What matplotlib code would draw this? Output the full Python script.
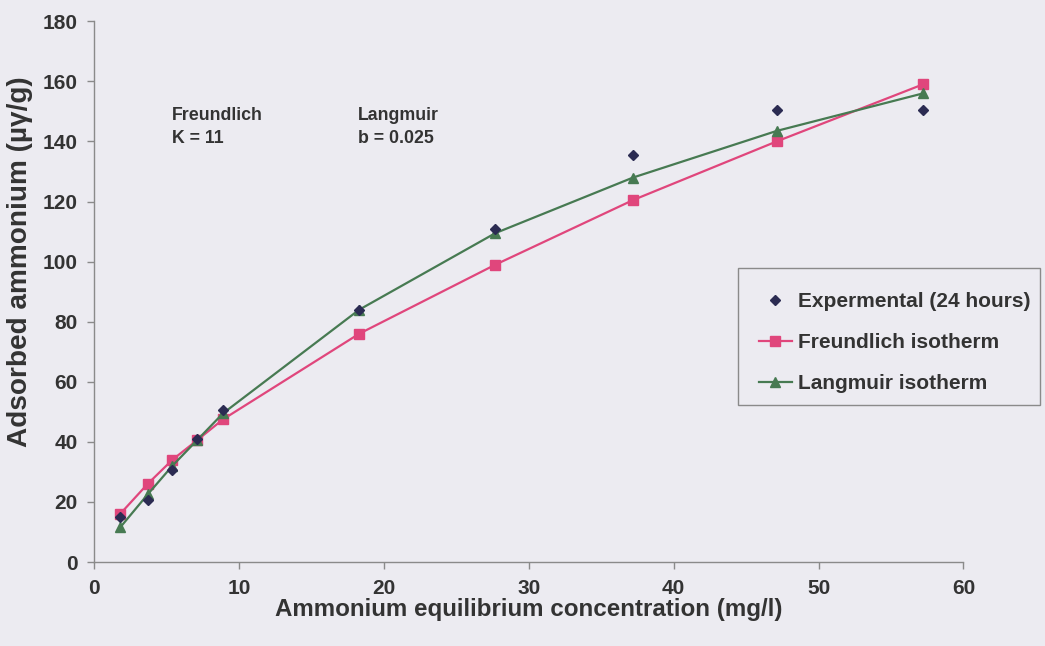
import matplotlib
matplotlib.use("Agg")
import matplotlib.pyplot as plt
from matplotlib.patches import Rectangle

# equilibrium concentration (mg/l) and adsorbed ammonium (ug/g)
conc = [1.8, 3.7, 5.4, 7.1, 8.9, 18.3, 27.7, 37.2, 47.1, 57.2]
experimental = [15, 20.5, 30.5, 41, 50.5, 84, 111, 135.5, 150.5, 150.5]
freundlich = [16, 26, 34, 40.5, 47.5, 76, 99, 120.5, 140, 159]
langmuir = [11.5, 22.5, 32, 40.5, 49.5, 84, 109.5, 128, 143.5, 156]

BG = "#ecebf1"
TXT = "#333333"
AXIS = "#8a8a8a"

plt.rcParams["font.family"] = ["Liberation Sans", "DejaVu Sans"]
plt.rcParams["font.weight"] = "bold"

fig = plt.figure(figsize=(10.45, 6.46), dpi=100, facecolor=BG)
ax = fig.add_axes([0.090, 0.130, 0.832, 0.837], facecolor=BG)

ax.plot(conc, experimental, ls="none", marker="D", ms=5, color="#2b2b52",
        label="Expermental (24 hours)", zorder=4)
ax.plot(conc, freundlich, "-", marker="s", ms=6.5, lw=1.6, color="#e0467c",
        label="Freundlich isotherm", zorder=3)
ax.plot(conc, langmuir, "-", marker="^", ms=7, lw=1.6, color="#477a52",
        label="Langmuir isotherm", zorder=3)

ax.set_xlim(0, 60)
ax.set_ylim(0, 180)
ax.set_xticks(range(0, 61, 10))
ax.set_yticks(range(0, 181, 20))
for side in ("top", "right"):
    ax.spines[side].set_visible(False)
for side in ("left", "bottom"):
    ax.spines[side].set_color(AXIS)
    ax.spines[side].set_linewidth(1.0)
ax.tick_params(colors=AXIS, labelcolor=TXT, labelsize=15, length=5, width=1,
               direction="out", pad=7)
for lbl in ax.get_xticklabels() + ax.get_yticklabels():
    lbl.set_fontweight("bold")

ax.set_xlabel("Ammonium equilibrium concentration (mg/l)", fontsize=17.4,
              fontweight="bold", color=TXT, labelpad=0)
ax.set_ylabel("Adsorbed ammonium (\u00b5\u03b3/g)", fontsize=20.2,
              fontweight="bold", color=TXT)
ax.yaxis.set_label_coords(-0.070, 0.555)

ax.text(5.4, 144.8, "Freundlich\nK = 11", fontsize=12.8, fontweight="bold",
        color=TXT, va="center", linespacing=1.4)
ax.text(18.2, 144.8, "Langmuir\nb = 0.025", fontsize=12.8, fontweight="bold",
        color=TXT, va="center", linespacing=1.4)

# legend entries without their own frame; the box is drawn separately so
# it can be tight on the right and roomy top and bottom
leg = fig.legend(*ax.get_legend_handles_labels(), loc="upper left",
                 bbox_to_anchor=(0.706, 0.580), fontsize=15, frameon=False,
                 borderpad=1.0, labelspacing=1.05, handlelength=1.6,
                 handletextpad=0.3, borderaxespad=0)
for t in leg.get_texts():
    t.set_color(TXT)
    t.set_fontweight("bold")
box_left, box_top, box_w, box_h = 738 / 1045, 1 - 268 / 646, 302 / 1045, 137 / 646
fig.patches.append(Rectangle((box_left, box_top - box_h), box_w, box_h,
                             transform=fig.transFigure, facecolor=BG,
                             edgecolor=AXIS, lw=1.0, zorder=0.5))

fig.savefig("out.png", dpi=100, facecolor=BG)
